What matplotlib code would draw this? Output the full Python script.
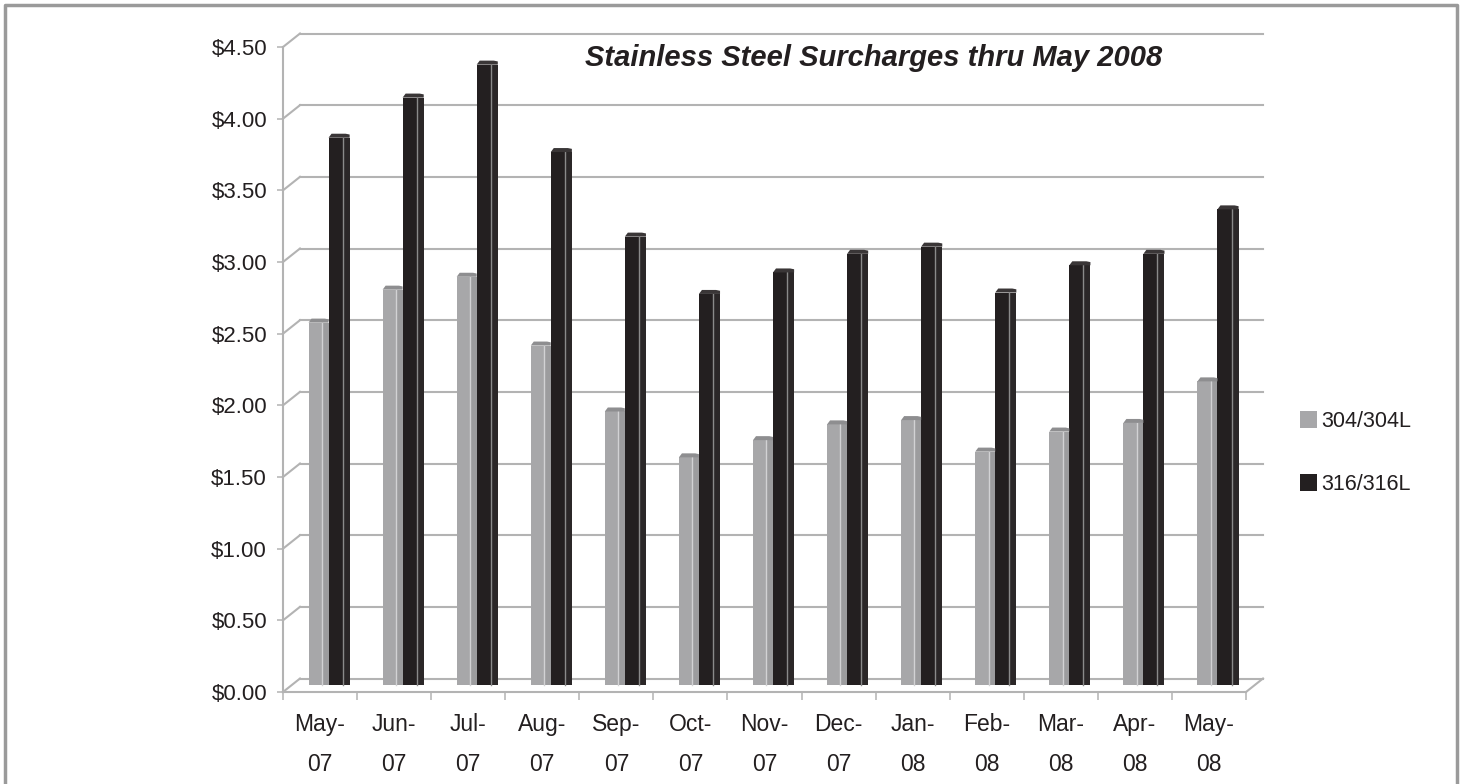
import numpy as np
import matplotlib
matplotlib.use("Agg")
import matplotlib.pyplot as plt
from matplotlib.patches import Polygon, Patch
from matplotlib.lines import Line2D

plt.rcParams['font.family'] = ['Liberation Sans', 'DejaVu Sans']

months = ["May-\n07", "Jun-\n07", "Jul-\n07", "Aug-\n07", "Sep-\n07", "Oct-\n07",
          "Nov-\n07", "Dec-\n07", "Jan-\n08", "Feb-\n08", "Mar-\n08", "Apr-\n08", "May-\n08"]
s304 = [2.53, 2.76, 2.85, 2.37, 1.91, 1.59, 1.71, 1.82, 1.85, 1.63, 1.77, 1.83, 2.12]
s316 = [3.82, 4.10, 4.33, 3.72, 3.13, 2.73, 2.88, 3.01, 3.06, 2.74, 2.93, 3.01, 3.32]
yticks = [0.0, 0.5, 1.0, 1.5, 2.0, 2.5, 3.0, 3.5, 4.0, 4.5]
series_names = ["304/304L", "316/316L"]

text_col = "#231f20"
grid_col = "#b3b3b3"
W, H = 1461, 784

fig = plt.figure(figsize=(W / 100, H / 100), dpi=100)
ax_l, ax_r, ax_t, ax_b = 283, 1246, 47, 692
ax = fig.add_axes([ax_l / W, 1 - ax_b / H, (ax_r - ax_l) / W, (ax_b - ax_t) / H])
n = len(months)
ax.set_xlim(-0.5, n - 0.5)
ax.set_ylim(0, 4.5)

# depth offset of the back wall, in data units
px_x = (ax_r - ax_l) / n
px_y = (ax_b - ax_t) / 4.5
ddx = 17 / px_x
ddy = 13.5 / px_y

# back wall gridlines + left side diagonals
for v in yticks:
    ax.plot([-0.5 + ddx, n - 0.5 + ddx], [v + ddy, v + ddy], color=grid_col, lw=1.5,
            clip_on=False, zorder=1)
    ax.plot([-0.5, -0.5 + ddx], [v, v + ddy], color=grid_col, lw=1.5, clip_on=False, zorder=1)
ax.plot([n - 0.5, n - 0.5 + ddx], [0, ddy], color=grid_col, lw=1.5, clip_on=False, zorder=1)


def draw_bar(x0, front_w, side_w, val, face, side, line, cap):
    mx, my = ddx / 2, ddy / 2
    xl = x0 + mx
    xs = xl + front_w
    xr = xs + side_w
    b = my
    t = val + my
    ax.fill_between([xl, xs], [b, b], [t, t], color=face, lw=0, zorder=3)
    ax.fill_between([xs, xr], [b, b], [t, t], color=side, lw=0, zorder=3)
    ax.plot([xs, xs], [b, t], color=line, lw=1.0, zorder=4)
    c = 4 / px_y
    k = 3 / px_x
    ax.add_patch(Polygon([(xl, t), (xr, t), (xr, t + c * 0.8), (xs + k, t + c), (xl + k, t + c)],
                         closed=True, color=cap, lw=0, zorder=4))


x = np.arange(n)
for i in range(n):
    draw_bar(x[i] - 0.27, 0.18, 0.09, s304[i], "#a7a7a9", "#9c9c9e", "#d2d2d4", "#8e8e90")
    draw_bar(x[i], 0.19, 0.095, s316[i], "#231f20", "#2b2728", "#8a8a8a", "#3a3637")

# axes styling
for sp in ["top", "right"]:
    ax.spines[sp].set_visible(False)
for sp in ["left", "bottom"]:
    ax.spines[sp].set_color(grid_col)
    ax.spines[sp].set_linewidth(1.5)

ax.set_yticks(yticks)
ax.set_yticklabels(["${:.2f}".format(v) for v in yticks])
ax.tick_params(axis="y", length=4.5, width=1.1, color=grid_col, pad=7,
               labelsize=16, labelcolor=text_col)
ax.set_xticks(x)
ax.set_xticklabels(months, linespacing=1.95)
ax.set_xticks(np.arange(n + 1) - 0.5, minor=True)
ax.tick_params(axis="x", which="major", length=0, pad=15, labelsize=16.5, labelcolor=text_col)
ax.tick_params(axis="x", which="minor", length=6, width=1.1, color=grid_col)

fig.text(874 / W, 1 - 58 / H, "Stainless Steel Surcharges thru May 2008", ha="center",
         va="center", fontsize=21, fontweight="bold", fontstyle="italic", color=text_col)

handles = [Patch(facecolor="#a7a7a9", edgecolor="none"), Patch(facecolor="#231f20", edgecolor="none")]
fig.legend(handles, series_names, loc="upper left", bbox_to_anchor=(1300 / W, 1 - 411 / H),
           frameon=False, fontsize=15.5, handlelength=0.8, handleheight=0.8,
           handletextpad=0.2, labelspacing=1.95, borderpad=0, borderaxespad=0,
           labelcolor=text_col)

# outer frame
fx = [5 / W, 5 / W, 1457 / W, 1457 / W]
fy = [0, 1 - 5 / H, 1 - 5 / H, 0]
fig.add_artist(Line2D(fx, fy, transform=fig.transFigure, color="#9a9a9a", lw=2.5))

fig.savefig("out.png", dpi=100, facecolor="white")
